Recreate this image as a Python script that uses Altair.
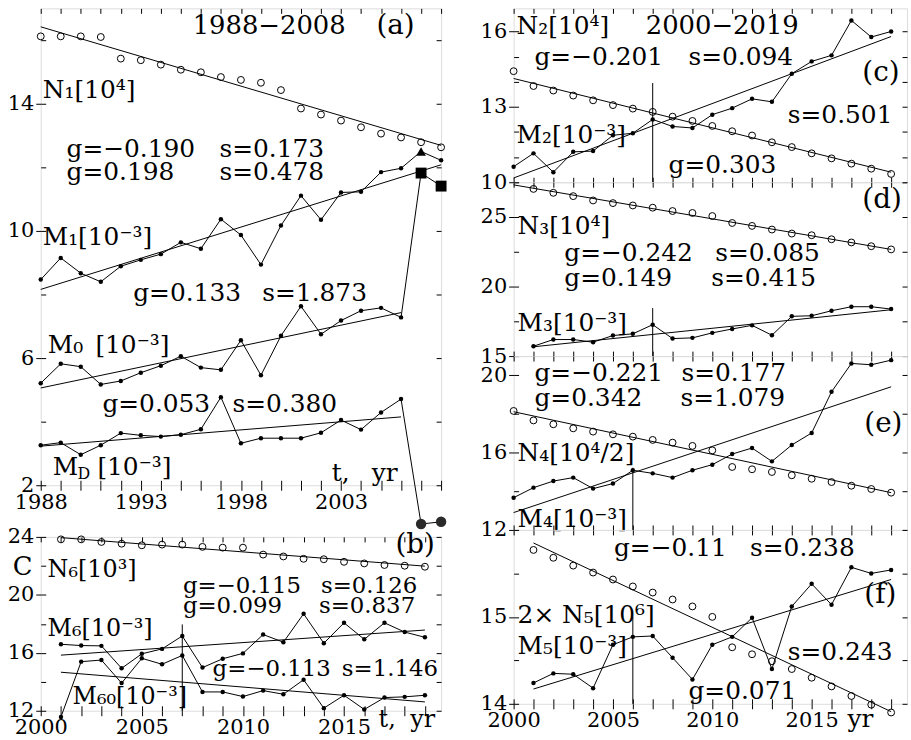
import altair as alt
import pandas as pd

FONT = "DejaVu Serif"

# ---------------- data ----------------
years_a = list(range(1988, 2009))
N1 = [16.12, 16.12, 16.12, 16.10, 15.42, 15.37, 15.23, 15.07, 14.99, 14.84, 14.75,
      14.66, 14.43, 13.85, 13.66, 13.47, 13.26, 13.06, 12.94, 12.79, 12.63]
M1 = [8.47, 9.15, 8.67, 8.40, 8.89, 9.09, 9.27, 9.64, 9.44, 10.37, 9.87,
      8.94, 10.17, 11.11, 10.35, 11.21, 11.23, 11.85, 11.97, 12.50, 12.22]
M0 = [5.21, 5.82, 5.73, 5.17, 5.28, 5.54, 5.76, 6.06, 5.70, 5.63, 6.56,
      5.46, 6.70, 7.63, 6.75, 7.18, 7.49, 7.58, 7.28, 11.82, 11.41]
MD = [3.26, 3.34, 2.96, 3.26, 3.64, 3.57, 3.53, 3.59, 3.76, 4.77, 3.32,
      3.48, 3.48, 3.48, 3.65, 4.05, 3.75, 4.29, 4.71, 0.78, 0.85]
special_years_a = [2007, 2008]

years_b = list(range(2001, 2020))
N6 = [23.83, 23.83, 23.65, 23.53, 23.42, 23.47, 23.47, 23.31, 23.26, 23.26,
      22.78, 22.65, 22.49, 22.46, 22.28, 22.17, 22.06, 22.01, 21.94]
M6 = [16.59, 16.50, 16.48, 14.93, 15.93, 16.27, 17.16, 14.98, 15.59, 15.96,
      17.26, 16.73, 18.69, 16.66, 18.07, 16.93, 18.07, 17.43, 17.07]
M60 = [11.57, 15.39, 15.50, 13.91, 15.62, 15.21, 15.82, 13.30, 13.30, 12.98,
       13.39, 13.14, 14.14, 12.18, 13.07, 12.09, 12.91, 12.96, 13.07]

years_c = list(range(2000, 2020))
N2 = [14.42, 13.83, 13.65, 13.45, 13.26, 13.07, 12.93, 12.80, 12.61, 12.44,
      12.24, 12.03, 11.86, 11.59, 11.40, 11.15, 10.95, 10.74, 10.54, 10.33]
M2 = [10.62, 11.15, 10.40, 11.21, 11.24, 11.87, 11.95, 12.50, 12.22, 12.16,
      12.69, 12.95, 13.32, 13.20, 14.32, 14.81, 15.05, 16.44, 15.78, 16.00]

years_d = list(range(2001, 2020))
N3 = [27.02, 26.74, 26.50, 26.19, 26.00, 25.83, 25.67, 25.43, 25.29, 25.07,
      24.57, 24.36, 24.10, 23.81, 23.69, 23.40, 23.17, 22.90, 22.67]
M3 = [15.71, 16.19, 16.19, 16.00, 16.48, 16.60, 17.26, 16.26, 16.31, 16.67,
      16.95, 17.21, 16.50, 17.86, 17.90, 18.26, 18.55, 18.55, 18.38]

years_e = list(range(2000, 2020))
N4 = [18.16, 17.67, 17.47, 17.26, 17.09, 16.95, 16.83, 16.66, 16.52, 16.35,
      16.12, 15.26, 15.14, 15.00, 14.83, 14.65, 14.48, 14.29, 14.12, 13.93]
M4 = [13.67, 14.19, 14.53, 14.71, 14.14, 14.40, 15.09, 14.93, 14.71, 15.09,
      15.38, 15.93, 16.24, 15.55, 16.40, 17.02, 19.15, 20.62, 20.55, 20.79]

years_f = list(range(2001, 2020))
N5 = [15.77, 15.68, 15.59, 15.51, 15.43, 15.35, 15.28, 15.20, 15.12, 15.00,
      14.65, 14.57, 14.49, 14.40, 14.30, 14.20, 14.09, 13.99, 13.90]
M5 = [14.24, 14.35, 14.34, 14.18, 14.68, 14.77, 14.78, 14.53, 14.28, 14.68,
      14.77, 14.99, 14.40, 15.12, 15.38, 15.14, 15.57, 15.50, 15.54]

# fitted trend lines: (start year, end year, start value, end value)
FIT_N1 = (1988, 2008, 16.42, 12.69)
FIT_M1 = (1988, 2008, 8.16, 12.08)
FIT_M0 = (1988, 2006, 5.06, 7.43)
FIT_MD = (1988, 2006, 3.23, 4.15)
FIT_N6 = (2001, 2019, 23.95, 21.98)
FIT_M6 = (2001, 2019, 15.84, 17.57)
FIT_M60 = (2001, 2019, 14.66, 12.61)
FIT_N2 = (2000, 2019, 14.13, 10.40)
FIT_M2 = (2000, 2019, 10.17, 15.80)
FIT_N3 = (2000, 2019, 27.31, 22.67)
FIT_M3 = (2001, 2019, 15.67, 18.33)
FIT_N4 = (2000, 2019, 18.12, 13.93)
FIT_M4 = (2000, 2019, 12.90, 19.41)
FIT_N5 = (2001, 2019, 15.85, 13.91)
FIT_M5 = (2001, 2019, 14.17, 15.43)

# vertical markers: (year, from, to)
VL_B = (2007, 12.0, 17.96)
VL_C = (2007, 10.0, 13.95)
VL_D = (2007, 15.0, 18.45)
VL_E = (2006, 12.0, 15.22)
VL_F = (2006, 14.0, 15.0)

# annotations: (x, y, text, font size)
ANN_A = [
    (1995.59, 16.44, "1988−2008", 26), (2004.77, 16.44, "(a)", 28),
    (1988.1, 14.44, "N₁[10⁴]", 25),
    (1989.29, 12.59, "g=−0.190", 25), (1996.93, 12.59, "s=0.173", 25),
    (1989.29, 11.84, "g=0.198", 25), (1996.93, 11.84, "s=0.478", 25),
    (1988.1, 9.8, "M₁[10⁻³]", 25),
    (1992.62, 8.03, "g=0.133", 25), (1999.07, 8.03, "s=1.873", 25),
    (1988.35, 6.41, "M₀", 25), (1990.73, 6.41, "[10⁻³]", 25),
    (1991.08, 4.56, "g=0.053", 25), (1997.58, 4.56, "s=0.380", 25),
    (1988.6, 2.56, "M", 25), (1990.83, 2.56, "[10⁻³]", 25),
    (2002.54, 2.38, "t,", 25), (2004.53, 2.38, "yr", 25),
]
SUB_A = [(1988.6, 2.56, "D", 16)]
ANN_B = [
    (2017.54, 23.45, "(b)", 28), (1998.62, 21.94, "C", 26),
    (2000.34, 21.74, "N₆[10³]", 24),
    (2007.03, 20.64, "g=−0.115", 23), (2013.86, 20.64, "s=0.126", 23),
    (2007.03, 19.2, "g=0.099", 23), (2013.76, 19.2, "s=0.837", 23),
    (2000.34, 17.62, "M₆[10⁻³]", 24),
    (2008.5, 14.88, "g=−0.113", 23), (2014.89, 14.88, "s=1.146", 23),
    (2001.57, 12.96, "M₆₀[10⁻³]", 24),
    (2016.71, 11.35, "t,", 24), (2018.28, 11.35, "yr", 24),
]
ANN_C = [
    (2000.15, 16.21, "N₂[10⁴]", 25), (2006.65, 16.21, "2000−2019", 26),
    (2001.05, 14.98, "g=−0.201", 25), (2008.8, 14.98, "s=0.094", 25),
    (2017.55, 14.35, "(c)", 28), (2013.8, 12.69, "s=0.501", 25),
    (2000.15, 11.86, "M₂[10⁻³]", 25), (2007.8, 10.67, "g=0.303", 25),
]
ANN_D = [
    (2017.55, 26.21, "(d)", 28), (2000.2, 24.36, "N₃[10⁴]", 25),
    (2002.55, 22.43, "g=−0.242", 25), (2010.15, 22.43, "s=0.085", 25),
    (2002.55, 20.64, "g=0.149", 25), (2009.95, 20.64, "s=0.415", 25),
    (2000.2, 17.36, "M₃[10⁻³]", 25),
]
ANN_E = [
    (2001.05, 20.12, "g=−0.221", 25), (2008.45, 20.12, "s=0.177", 25),
    (2001.05, 18.83, "g=0.342", 25), (2008.4, 18.83, "s=1.079", 25),
    (2017.65, 17.48, "(e)", 28), (2000.2, 15.98, "N₄[10⁴/2]", 25),
    (2000.2, 12.57, "M₄[10⁻³]", 25),
]
ANN_F = [
    (2005.05, 15.79, "g=−0.11", 25), (2011.9, 15.79, "s=0.238", 25),
    (2017.65, 15.25, "(f)", 28), (2000.2, 15.02, "2× N₅[10⁶]", 25),
    (2000.2, 14.66, "M₅[10⁻³]", 25), (2013.8, 14.59, "s=0.243", 25),
    (2008.8, 14.15, "g=0.071", 25), (2016.8, 13.83, "yr", 25),
]


# ---------------- helpers ----------------
def xy(years, vals):
    return pd.DataFrame({"x": years, "y": vals})


def enc(xdom, ydom):
    return dict(
        x=alt.X("x:Q", scale=alt.Scale(domain=xdom, nice=False, zero=False), axis=None),
        y=alt.Y("y:Q", scale=alt.Scale(domain=ydom, nice=False, zero=False), axis=None),
    )


AX = dict(domain=False, grid=False, title=None, tickColor="black", tickWidth=1,
          labelFont=FONT, labelFontSize=21, labelColor="black",
          labelFlush=False, labelOverlap=False)


def axis_layers(xdom, ydom, xticks, xlabels, yticks, ylabels):
    d = pd.DataFrame({"x": xdom, "y": ydom})

    def sx():
        return alt.Scale(domain=xdom, nice=False, zero=False)

    def sy():
        return alt.Scale(domain=ydom, nice=False, zero=False)

    if xlabels:
        xa = alt.Axis(orient="bottom", values=xticks, format="d", tickSize=5, labelPadding=1,
                      labelExpr="indexof(%s, datum.value) >= 0 ? datum.label : ''" % str(xlabels),
                      **AX)
    else:
        xa = None
    ya = alt.Axis(orient="left", values=ylabels, format="d", tickSize=5, labelPadding=2, **AX)
    A = alt.Chart(d).mark_point(opacity=0).encode(
        x=alt.X("x:Q", scale=sx(), axis=xa), y=alt.Y("y:Q", scale=sy(), axis=ya))
    inner = dict(tickSize=5, offset=-5, labels=False, **AX)
    B = alt.Chart(d).mark_point(opacity=0).encode(
        x=alt.X("x:Q", scale=sx(), axis=alt.Axis(orient="top", values=xticks, **inner)),
        y=alt.Y("y:Q", scale=sy(), axis=alt.Axis(orient="right", values=yticks, **inner)))
    C = alt.Chart(d).mark_point(opacity=0).encode(
        x=alt.X("x:Q", scale=sx(), axis=alt.Axis(orient="bottom", values=xticks, **inner)),
        y=alt.Y("y:Q", scale=sy(), axis=alt.Axis(orient="left", values=yticks, **inner)))
    return [A, B, C]


def line(df, xd, yd):
    return alt.Chart(df).mark_line(color="black", strokeWidth=1, clip=False).encode(**enc(xd, yd))


def fit(f, xd, yd):
    return line(xy([f[0], f[1]], [f[2], f[3]]), xd, yd)


def opens(df, xd, yd):
    return alt.Chart(df).mark_point(shape="circle", filled=False, size=48, color="black",
                                    strokeWidth=1, opacity=1, clip=False).encode(**enc(xd, yd))


def dots(df, xd, yd):
    return alt.Chart(df).mark_point(shape="circle", filled=True, size=20, color="black",
                                    opacity=1, clip=False).encode(**enc(xd, yd))


def vline(v, xd, yd):
    df = pd.DataFrame({"x": [v[0]], "y": [v[1]], "y2": [v[2]]})
    e = enc(xd, yd)
    return alt.Chart(df).mark_rule(color="black", strokeWidth=1, clip=False).encode(
        x=e["x"], y=e["y"], y2="y2:Q")


def texts(ann, xd, yd, dx=0, dy=0):
    df = pd.DataFrame(ann, columns=["x", "y", "t", "fs"])
    return alt.Chart(df).mark_text(font=FONT, align="left", baseline="middle", color="black",
                                   dx=dx, dy=dy, clip=False).encode(
        text="t:N", size=alt.Size("fs:Q", scale=None, legend=None), **enc(xd, yd))


def frame_box(x0, x1, y0, y1):
    # invisible box that fixes the layout bounds of a column
    return alt.Chart(alt.Data(values=[{}])).mark_rect(opacity=0).encode(
        x=alt.value(x0), x2=alt.value(x1), y=alt.value(y0), y2=alt.value(y1))


def panel(xd, yd, w, h, xticks, xlabels, yticks, ylabels, layers):
    return alt.layer(*axis_layers(xd, yd, xticks, xlabels, yticks, ylabels), *layers).resolve_scale(
        x="independent", y="independent").resolve_axis(
        x="independent", y="independent").properties(width=w, height=h)


# ---------------- panel (a) ----------------
XA, YA = [1988, 2008], [2, 17]
dfN1, dfM1, dfM0, dfMD = xy(years_a, N1), xy(years_a, M1), xy(years_a, M0), xy(years_a, MD)
normal_a = [y for y in years_a if y not in special_years_a]
layers_a = [
    fit(FIT_N1, XA, YA), fit(FIT_M1, XA, YA), fit(FIT_M0, XA, YA), fit(FIT_MD, XA, YA),
    line(dfM1, XA, YA), line(dfM0, XA, YA), line(dfMD, XA, YA),
    opens(dfN1, XA, YA),
    dots(dfM1[dfM1.x != 2007], XA, YA),
    dots(dfM0[dfM0.x.isin(normal_a)], XA, YA),
    dots(dfMD[dfMD.x.isin(normal_a)], XA, YA),
    alt.Chart(dfM1[dfM1.x == 2007]).mark_point(shape="triangle-up", filled=True, size=95,
                                               color="black", opacity=1, clip=False).encode(**enc(XA, YA)),
    alt.Chart(dfM0[dfM0.x.isin(special_years_a)]).mark_point(shape="square", filled=True, size=120,
                                                             color="black", opacity=1, clip=False).encode(**enc(XA, YA)),
    alt.Chart(dfMD[dfMD.x.isin(special_years_a)]).mark_point(shape="circle", filled=True, size=110,
                                                             color="#2a2a2a", opacity=1, clip=False).encode(**enc(XA, YA)),
    texts(ANN_A, XA, YA),
    texts(SUB_A, XA, YA, dx=25, dy=7),
    frame_box(-40, 416, -5, -4),
]
pa = panel(XA, YA, 403, 480, years_a, [1988, 1993, 1998, 2003],
           [2, 4, 6, 8, 10, 12, 14, 16], [2, 6, 10, 14], layers_a)

# ---------------- panel (b) ----------------
XB, YB = [2000, 2019.8], [12, 24]
allx = list(range(2000, 2020))
dfN6, dfM6, dfM60 = xy(years_b, N6), xy(years_b, M6), xy(years_b, M60)
layers_b = [
    vline(VL_B, XB, YB),
    fit(FIT_N6, XB, YB), fit(FIT_M6, XB, YB), fit(FIT_M60, XB, YB),
    line(dfM6, XB, YB), line(dfM60, XB, YB),
    opens(dfN6, XB, YB), dots(dfM6, XB, YB), dots(dfM60, XB, YB),
    texts(ANN_B, XB, YB),
]
pb = panel(XB, YB, 403, 175, allx, [2000, 2005, 2010, 2015],
           [12, 14, 16, 18, 20, 22, 24], [12, 16, 20, 24], layers_b)

# ---------------- right column ----------------
XR = [2000, 2019.8]

YC = [10, 16.92]
pc = panel(XR, YC, 396, 175, allx, None, [10, 11, 12, 13, 14, 15, 16], [10, 13, 16], [
    vline(VL_C, XR, YC),
    fit(FIT_N2, XR, YC), fit(FIT_M2, XR, YC),
    line(xy(years_c, M2), XR, YC),
    opens(xy(years_c, N2), XR, YC), dots(xy(years_c, M2), XR, YC),
    texts(ANN_C, XR, YC),
    frame_box(-40, -39, -5, -4),
])

YD = [15, 27.5]
pd_ = panel(XR, YD, 396, 175, allx, None, [15, 17.5, 20, 22.5, 25, 27.5], [15, 20, 25], [
    vline(VL_D, XR, YD),
    fit(FIT_N3, XR, YD), fit(FIT_M3, XR, YD),
    line(xy(years_d, M3), XR, YD),
    opens(xy(years_d, N3), XR, YD), dots(xy(years_d, M3), XR, YD),
    texts(ANN_D, XR, YD),
])

YE = [12, 21]
pe = panel(XR, YE, 396, 175, allx, None, [12, 14, 16, 18, 20], [12, 16, 20], [
    vline(VL_E, XR, YE),
    fit(FIT_N4, XR, YE), fit(FIT_M4, XR, YE),
    line(xy(years_e, M4), XR, YE),
    opens(xy(years_e, N4), XR, YE), dots(xy(years_e, M4), XR, YE),
    texts(ANN_E, XR, YE),
])

YF = [14, 16]
pf = panel(XR, YF, 396, 175, allx, [2000, 2005, 2010, 2015], [14, 14.5, 15, 15.5, 16], [14, 15], [
    vline(VL_F, XR, YF),
    fit(FIT_N5, XR, YF), fit(FIT_M5, XR, YF),
    line(xy(years_f, M5), XR, YF),
    opens(xy(years_f, N5), XR, YF), dots(xy(years_f, M5), XR, YF),
    texts(ANN_F, XR, YF),
])

left = alt.vconcat(pa, pb, spacing=52, bounds="flush")
right = alt.vconcat(pc, pd_, pe, pf, spacing=0, bounds="flush")

chart = alt.hconcat(left, right, spacing=18).properties(
    padding={"left": 0, "top": 0, "right": 0, "bottom": 0},
    background="white",
).configure_view(stroke="black", strokeWidth=1).configure(font=FONT)

chart.save("out.html", embed_options={"renderer": "svg", "actions": False})
